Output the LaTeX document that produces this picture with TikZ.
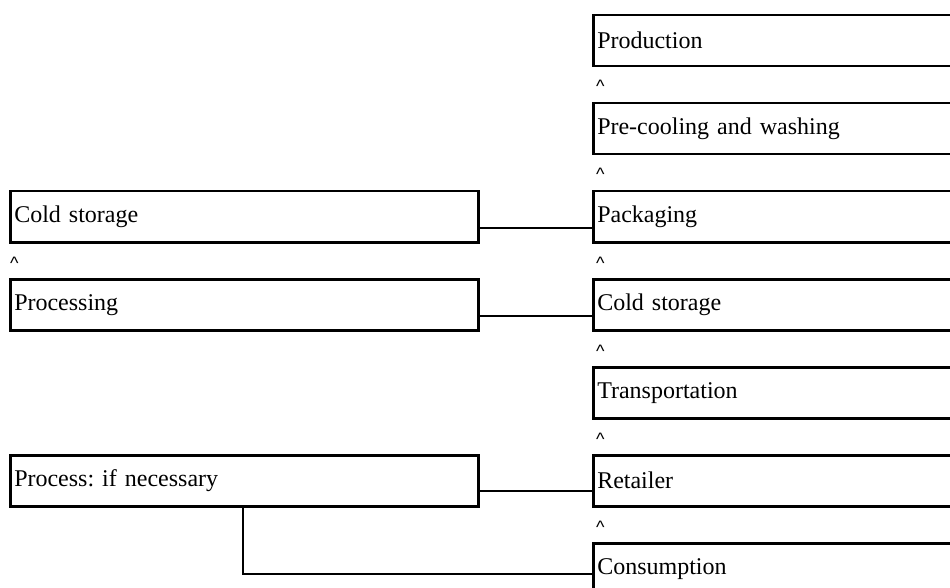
\documentclass[tikz,border=0pt]{standalone}
\usepackage{fontspec}
\setmainfont{Liberation Serif}
\newfontfamily\caretfont{Liberation Sans}
\usetikzlibrary{calc}
\begin{document}
\frenchspacing
\begin{tikzpicture}[x=1pt,y=-1pt,
  stagebox/.style={draw, line width=2.5pt, anchor=north west, minimum height=51pt,
    inner xsep=4pt, inner ysep=0pt, align=left, font=\fontsize{24}{28}\selectfont},
  rightbox/.style={stagebox, text width=360pt, minimum width=368pt},
  leftbox/.style={stagebox, text width=460pt, minimum width=468pt},
  caret/.style={anchor=base west, inner sep=0pt, font=\caretfont\fontsize{18}{21}\selectfont},
  link/.style={line width=1.8pt},
  linkthick/.style={line width=2.8pt}]
  \fill[white] (0,0) rectangle (950,588);
  \useasboundingbox (0,0) rectangle (950,588);
  \clip (0,0) rectangle (950,588);

  % main chain, right column
  \node[rightbox] (prod) at (592,14)  {Production};
  \node[rightbox] (cool) at (592,102) {Pre-cooling and washing};
  \node[rightbox] (pack) at (592,190) {Packaging};
  \node[rightbox] (cold) at (592,278) {Cold storage};
  \node[rightbox] (tran) at (592,366) {Transportation};
  \node[rightbox] (reta) at (592,454) {Retailer};
  \node[rightbox] (cons) at (592,542) {Consumption};

  % side branch, left column
  \node[leftbox] (lcold) at (9,190) {Cold storage};
  \node[leftbox] (lproc) at (9,278) {Processing};
  \node[leftbox] (lpine) at (9,454) {Process: if necessary};

  % carets between stages
  \node[caret] (c1) at (596,93)  {\textasciicircum};
  \node[caret] (c2) at (596,181) {\textasciicircum};
  \node[caret] (c3) at (596,269) {\textasciicircum};
  \node[caret] (c4) at (596,357) {\textasciicircum};
  \node[caret] (c5) at (596,445) {\textasciicircum};
  \node[caret] (c6) at (596,533) {\textasciicircum};
  \node[caret] (c7) at (10,269)  {\textasciicircum};

  % connectors between the columns
  \draw[link] ($(lcold.north east)+(0,38)$) -- ($(pack.north west)+(0,38)$);
  \draw[link] ($(lproc.north east)+(0,38)$) -- ($(cold.north west)+(0,38)$);
  \draw[linkthick] ($(lpine.north east)+(0,37)$) -- ($(reta.north west)+(0,37)$);
  \draw[linkthick] ($(lpine.south west)+(234,0)$) |- ($(cons.north west)+(0,32)$);
\end{tikzpicture}
\end{document}
